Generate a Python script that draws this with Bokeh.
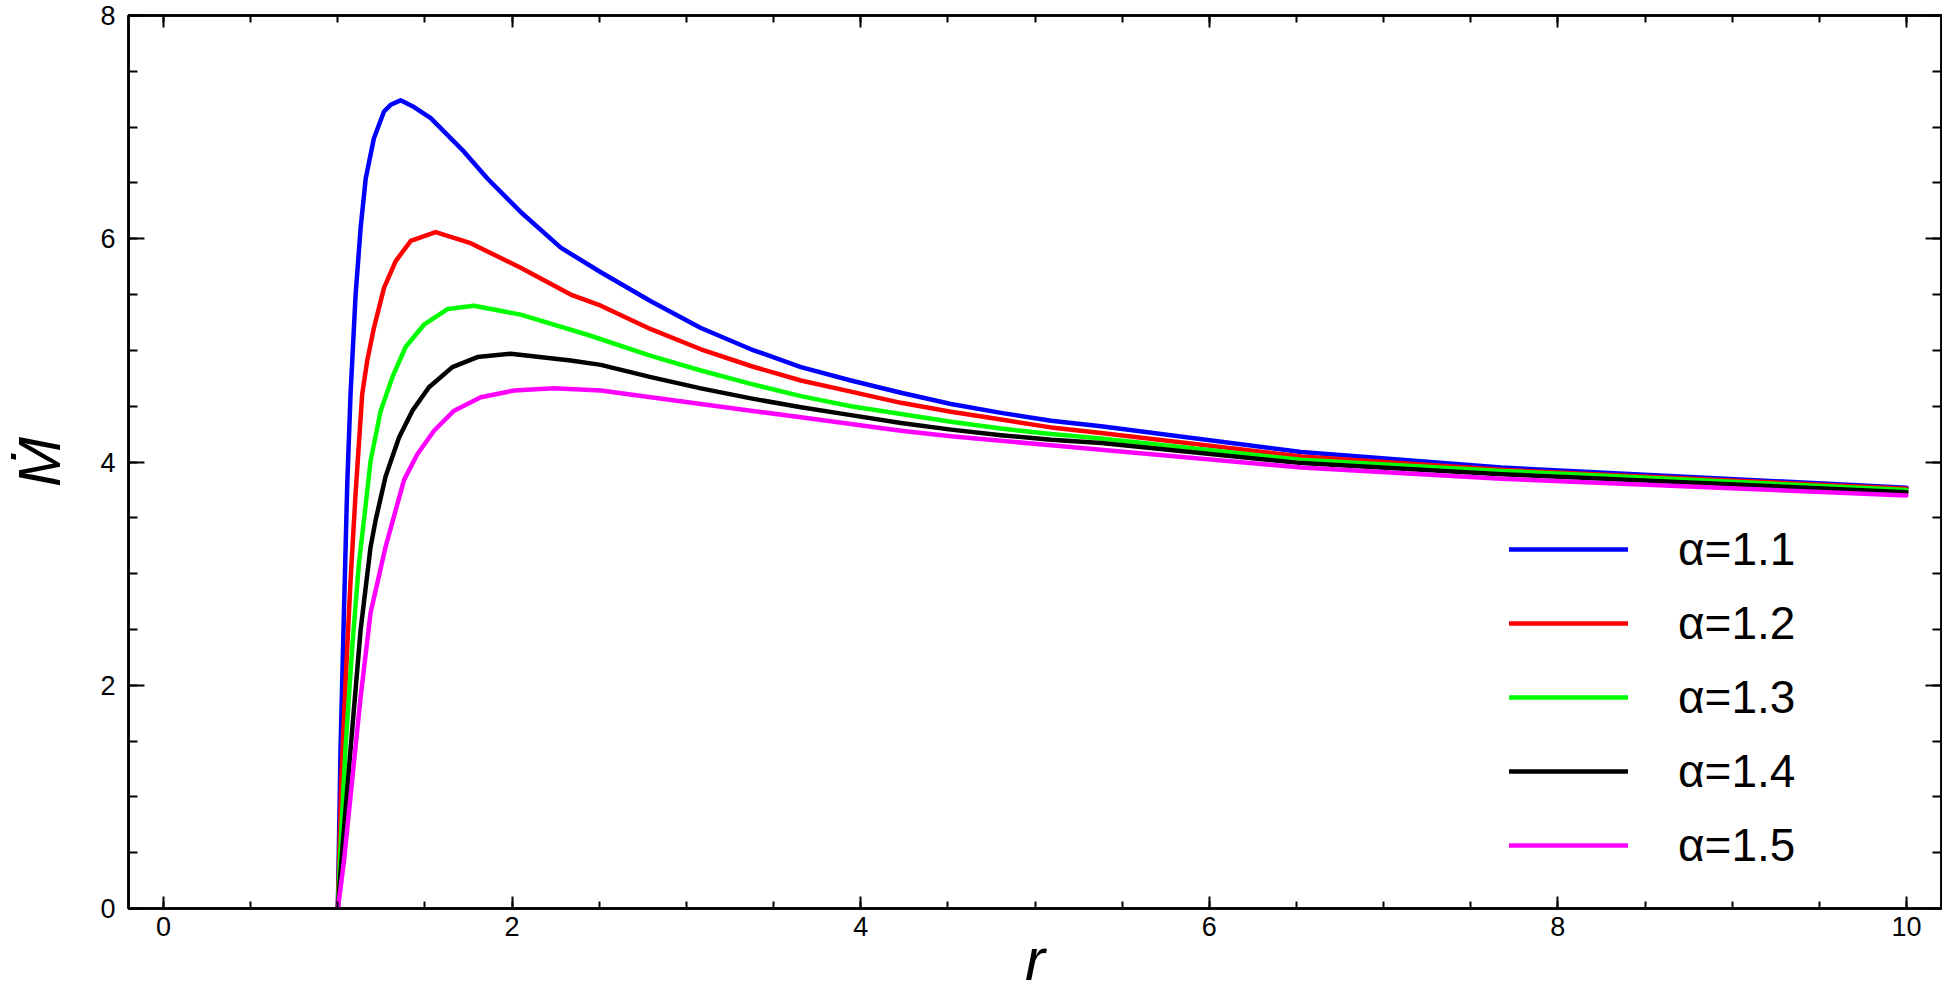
from bokeh.plotting import figure
from bokeh.models import (Range1d, LinearAxis, FixedTicker, CustomJSTickFormatter,
                          Legend, LegendItem)
from bokeh.embed import file_html
from bokeh.resources import INLINE

# ---------------- data ----------------
labels = ["α=1.1", "α=1.2", "α=1.3", "α=1.4", "α=1.5"]
colors = ["#0000ff", "#ff0000", "#00ff00", "#000000", "#ff00ff"]

r_a11 = [1.0, 1.016, 1.035, 1.054, 1.073, 1.102, 1.131, 1.160, 1.207, 1.265, 1.303, 1.360,
         1.437, 1.533, 1.724, 1.858, 2.049, 2.279, 2.509, 2.796, 3.083, 3.370, 3.657, 3.944,
         4.231, 4.518, 4.805, 5.092, 5.379, 6.527, 7.675, 10.0]
m_a11 = [0.0, 1.46, 2.65, 3.80, 4.61, 5.50, 6.10, 6.54, 6.90, 7.14, 7.20, 7.24,
         7.18, 7.08, 6.78, 6.54, 6.24, 5.92, 5.70, 5.44, 5.20, 5.01, 4.85, 4.73,
         4.62, 4.52, 4.44, 4.37, 4.32, 4.09, 3.95, 3.77]

r_a12 = [1.0, 1.020, 1.045, 1.073, 1.102, 1.140, 1.169, 1.207, 1.265, 1.332, 1.418, 1.561,
         1.762, 2.049, 2.336, 2.509, 2.796, 3.083, 3.370, 3.657, 3.944, 4.231, 4.518,
         4.805, 5.092, 5.379, 6.527, 7.675, 10.0]
m_a12 = [0.0, 1.16, 2.05, 2.94, 3.72, 4.61, 4.91, 5.20, 5.56, 5.80, 5.98, 6.06,
         5.96, 5.74, 5.50, 5.40, 5.19, 5.01, 4.86, 4.73, 4.63, 4.53, 4.45,
         4.38, 4.31, 4.26, 4.05, 3.93, 3.76]

r_a13 = [1.0, 1.020, 1.045, 1.083, 1.121, 1.150, 1.188, 1.246, 1.313, 1.389, 1.494, 1.629,
         1.781, 2.049, 2.432, 2.796, 3.083, 3.370, 3.657, 3.944, 4.231, 4.518, 4.805,
         5.092, 5.379, 6.527, 7.675, 10.0]
m_a13 = [0.0, 0.71, 1.46, 2.35, 3.09, 3.48, 4.01, 4.46, 4.76, 5.03, 5.23, 5.37,
         5.40, 5.32, 5.14, 4.95, 4.82, 4.70, 4.59, 4.50, 4.43, 4.36, 4.30,
         4.25, 4.21, 4.02, 3.92, 3.75]

r_a14 = [1.0, 1.035, 1.083, 1.131, 1.188, 1.217, 1.274, 1.351, 1.428, 1.523, 1.657, 1.801,
         1.992, 2.336, 2.509, 2.796, 3.083, 3.370, 3.657, 3.944, 4.231, 4.518, 4.805,
         5.092, 5.379, 6.527, 7.675, 10.0]
m_a14 = [0.0, 0.71, 1.61, 2.50, 3.24, 3.48, 3.87, 4.22, 4.46, 4.67, 4.85, 4.94,
         4.97, 4.91, 4.87, 4.76, 4.66, 4.57, 4.49, 4.42, 4.35, 4.29, 4.24,
         4.20, 4.17, 3.99, 3.89, 3.73]

r_a15 = [1.0, 1.035, 1.083, 1.131, 1.188, 1.274, 1.380, 1.456, 1.552, 1.667, 1.820, 2.011,
         2.240, 2.509, 2.796, 3.083, 3.370, 3.657, 3.944, 4.231, 4.518, 4.805, 5.092,
         5.379, 6.527, 7.675, 10.0]
m_a15 = [0.0, 0.42, 1.16, 1.90, 2.65, 3.24, 3.84, 4.07, 4.28, 4.46, 4.58, 4.64,
         4.66, 4.64, 4.58, 4.52, 4.46, 4.40, 4.34, 4.28, 4.23, 4.19, 4.15,
         4.11, 3.95, 3.85, 3.70]

x_major = [0, 2, 4, 6, 8, 10]
y_major = [0, 2, 4, 6, 8]

series = [(r_a11, m_a11), (r_a12, m_a12), (r_a13, m_a13), (r_a14, m_a14), (r_a15, m_a15)]

# ---------------- figure ----------------
FONT = "Liberation Sans"
p = figure(width=1942, height=1000, output_backend="svg", toolbar_location=None,
           x_range=Range1d(-0.201, 10.201), y_range=Range1d(0, 8),
           x_axis_label="r", y_axis_label="Ṁ",
           min_border_left=128, min_border_right=1, min_border_top=15, min_border_bottom=92)
p.grid.visible = False
p.background_fill_color = "white"
p.border_fill_color = "white"
p.outline_line_color = "black"
p.outline_line_width = 2.5

bottom = p.below[0]
left = p.left[0]

x_minor = [v / 2 for v in range(0, 21)]
y_minor = [v / 2 for v in range(0, 17)]

top = LinearAxis()
right = LinearAxis()
p.add_layout(top, "above")
p.add_layout(right, "right")

for ax in [bottom, top]:
    ax.ticker = FixedTicker(ticks=x_major, minor_ticks=x_minor)
    ax.major_tick_in = 12
    ax.minor_tick_in = 7
for ax in [left, right]:
    ax.ticker = FixedTicker(ticks=y_major, minor_ticks=y_minor)
    ax.major_tick_in = 16
    ax.minor_tick_in = 9
for ax in [bottom, top, left, right]:
    ax.major_tick_out = 0
    ax.minor_tick_out = 0
    ax.axis_line_width = 2.5
    ax.major_tick_line_width = 2
    ax.minor_tick_line_width = 2
    ax.axis_line_color = "black"
    ax.major_tick_line_color = "black"
    ax.minor_tick_line_color = "black"
    ax.major_label_text_font = FONT
    ax.major_label_text_font_size = "27px"
    ax.major_label_text_color = "black"
for ax in [top, right]:
    ax.formatter = CustomJSTickFormatter(code="return ''")
    ax.major_label_text_font_size = "0px"
    ax.major_label_standoff = 0
    ax.axis_label_standoff = 0

bottom.major_label_standoff = 8
left.major_label_standoff = 13

bottom.axis_label_text_font = FONT
bottom.axis_label_text_font_style = "italic"
bottom.axis_label_text_font_size = "60px"
bottom.axis_label_text_color = "black"
bottom.axis_label_standoff = -13

left.axis_label_text_font = FONT
left.axis_label_text_font_style = "italic"
left.axis_label_text_font_size = "60px"
left.axis_label_text_color = "black"
left.axis_label_standoff = 24

items = []
for (xs, ys), c, lab in zip(series, colors, labels):
    rr = p.line(xs, ys, line_color=c, line_width=4.5, line_join="round", line_cap="round")
    items.append(LegendItem(label=lab, renderers=[rr]))

legend = Legend(items=items, location=(1381, 26), glyph_width=119, glyph_height=74,
                label_height=74, spacing=0, label_standoff=50, padding=0, margin=0,
                border_line_color=None, background_fill_alpha=0,
                label_text_font=FONT, label_text_font_size="46px", label_text_color="black")
p.add_layout(legend)

open("out.html", "w").write(file_html(p, INLINE))
